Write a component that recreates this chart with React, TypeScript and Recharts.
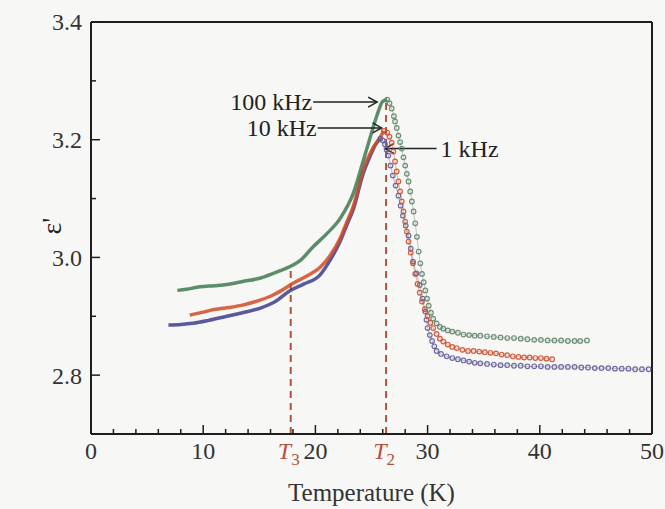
import { LineChart, Line, XAxis, YAxis, ReferenceLine } from "recharts";

// 100 kHz: warming branch up to the peak, then the drop and plateau
const T_100K_RISE = [7.7, 8.5, 9.7, 11, 12.1, 13.5, 15.1, 16.8, 17.8, 18.6, 19.8, 21, 22.2, 23.4, 24.2, 24.9, 25.5, 26.0, 26.4];
const E_100K_RISE = [2.944, 2.946, 2.95, 2.952, 2.954, 2.959, 2.965, 2.977, 2.985, 2.994, 3.018, 3.04, 3.066, 3.11, 3.16, 3.205, 3.242, 3.265, 3.268];
const T_100K_FALL = [26.4, 26.6, 26.8, 27.0, 27.1, 27.25, 27.4, 27.55, 27.7, 27.85, 28.0, 28.15, 28.3, 28.45, 28.6, 28.75, 28.9, 29.05, 29.2, 29.35, 29.5, 29.65, 29.8, 29.95, 30.1, 30.3, 30.5, 30.8, 31.1, 31.4, 31.8, 32.2, 32.7, 33.2, 33.7, 34.2, 34.7, 35.3, 35.9, 36.5, 37.1, 37.7, 38.3, 38.9, 39.5, 40.1, 40.7, 41.3, 41.9, 42.5, 43.1, 43.6, 44.2];
const E_100K_FALL = [3.268, 3.262, 3.253, 3.24, 3.231, 3.22, 3.207, 3.196, 3.185, 3.17, 3.156, 3.142, 3.129, 3.112, 3.095, 3.078, 3.058, 3.035, 3.01, 2.99, 2.972, 2.958, 2.944, 2.93, 2.918, 2.906, 2.896, 2.888, 2.882, 2.879, 2.876, 2.874, 2.872, 2.869, 2.868, 2.867, 2.867, 2.866, 2.865, 2.864, 2.863, 2.863, 2.862, 2.861, 2.86, 2.86, 2.859, 2.859, 2.859, 2.858, 2.858, 2.858, 2.859];

// 10 kHz
const T_10K_RISE = [8.8, 10, 10.6, 12, 13.5, 15, 16, 17, 18.0, 19.2, 20.4, 21.3, 22.2, 22.8, 23.4, 24.2, 25.1, 25.8, 26.1];
const E_10K_RISE = [2.902, 2.907, 2.91, 2.914, 2.919, 2.927, 2.934, 2.944, 2.956, 2.968, 2.983, 3.003, 3.032, 3.06, 3.088, 3.146, 3.185, 3.205, 3.215];
const T_10K_FALL = [26.1, 26.4, 26.6, 26.8, 26.95, 27.1, 27.25, 27.4, 27.55, 27.7, 27.85, 28.0, 28.15, 28.3, 28.5, 28.7, 28.9, 29.1, 29.3, 29.5, 29.75, 30.0, 30.25, 30.5, 30.8, 31.1, 31.4, 31.8, 32.2, 32.6, 33.1, 33.6, 34.1, 34.6, 35.1, 35.6, 36.1, 36.6, 37.1, 37.6, 38.1, 38.6, 39.1, 39.6, 40.1, 40.6, 41.1];
const E_10K_FALL = [3.215, 3.212, 3.205, 3.195, 3.18, 3.163, 3.146, 3.129, 3.112, 3.095, 3.078, 3.061, 3.044, 3.027, 3.008, 2.99, 2.972, 2.955, 2.94, 2.925, 2.912, 2.9, 2.889, 2.88, 2.87, 2.862, 2.857, 2.852, 2.848, 2.846, 2.843, 2.841, 2.841, 2.84, 2.839, 2.838, 2.837, 2.835, 2.834, 2.832, 2.831, 2.83, 2.83, 2.829, 2.829, 2.828, 2.827];

// 1 kHz
const T_1K_RISE = [6.9, 8, 9.1, 10.5, 12.1, 13.5, 15.1, 16.5, 17.7, 19, 20.4, 21.3, 22.2, 22.8, 23.4, 24.2, 24.9, 25.4, 25.8];
const E_1K_RISE = [2.885, 2.886, 2.888, 2.893, 2.9, 2.906, 2.914, 2.926, 2.943, 2.955, 2.97, 2.995, 3.027, 3.055, 3.083, 3.139, 3.173, 3.193, 3.202];
const T_1K_FALL = [25.8, 26.0, 26.2, 26.35, 26.5, 26.7, 26.9, 27.15, 27.4, 27.6, 27.8, 28.05, 28.3, 28.5, 28.7, 29.0, 29.3, 29.55, 29.8, 29.9, 30.0, 30.2, 30.4, 30.6, 30.8, 31.2, 31.7, 32.2, 32.7, 33.2, 33.7, 34.2, 34.7, 35.3, 35.9, 36.5, 37.1, 37.7, 38.3, 38.9, 39.5, 40.1, 40.7, 41.3, 41.9, 42.5, 43.1, 43.7, 44.3, 44.9, 45.5, 46.1, 46.7, 47.3, 47.9, 48.5, 49.1, 49.7];
const E_1K_FALL = [3.202, 3.199, 3.192, 3.183, 3.173, 3.156, 3.139, 3.122, 3.105, 3.088, 3.071, 3.054, 3.037, 3.015, 2.993, 2.973, 2.953, 2.93, 2.908, 2.894, 2.88, 2.868, 2.858, 2.849, 2.841, 2.836, 2.832, 2.829, 2.827, 2.825, 2.823, 2.821, 2.82, 2.819, 2.818, 2.817, 2.817, 2.816, 2.816, 2.815, 2.815, 2.815, 2.814, 2.814, 2.814, 2.814, 2.814, 2.813, 2.813, 2.812, 2.812, 2.812, 2.811, 2.811, 2.811, 2.81, 2.81, 2.81];

const X_TICKS = [0, 2, 4, 6, 8, 10, 12, 14, 16, 18, 20, 22, 24, 26, 28, 30, 32, 34, 36, 38, 40, 42, 44, 46, 48, 50];
const Y_TICKS = [2.7, 2.8, 2.9, 3.0, 3.1, 3.2, 3.3, 3.4];

// transition temperatures and where their dashed markers stop
const T3 = 17.8;
const T3_TOP = 2.985;
const T2 = 26.3;
const T2_TOP = 3.266;

const FONT = "'Liberation Serif', 'Times New Roman', serif";
const AXIS = "#1e1e1e";
const GREEN = "#3f7a50";
const RED = "#d14c25";
const BLUE = "#3e3d8c";
const GREEN_DOT = "#5f8468";
const RED_DOT = "#cc4f2e";
const BLUE_DOT = "#5e5c98";
const MARK = "#b5503a";

const toRows = (t: number[], e: number[]) => t.map((x, i) => ({ t: x, e: e[i] }));

const isMajorX = (v: number) => v % 10 === 0;
const isMajorY = (v: number) => Math.round(v * 10) % 2 === 0;

function BottomTick(props: any) {
  const { x, y, payload } = props;
  const major = isMajorX(payload.value);
  return (
    <g>
      <line x1={x} x2={x} y1={y} y2={y - (major ? 9 : 5)} stroke={AXIS} strokeWidth={1.5} />
      {major && (
        <text x={x} y={y + 25} textAnchor="middle" fontSize={24} fontFamily={FONT} fill="#333">
          {payload.value}
        </text>
      )}
    </g>
  );
}

function TopTick(props: any) {
  const { x, y, payload } = props;
  const major = isMajorX(payload.value);
  return <line x1={x} x2={x} y1={y} y2={y + (major ? 9 : 5)} stroke={AXIS} strokeWidth={1.5} />;
}

function LeftTick(props: any) {
  const { x, y, payload } = props;
  const major = isMajorY(payload.value);
  return (
    <g>
      <line x1={x} x2={x + (major ? 9 : 5)} y1={y} y2={y} stroke={AXIS} strokeWidth={1.5} />
      {major && payload.value > 2.75 && (
        <text x={x - 9} y={y} dy="0.35em" textAnchor="end" fontSize={24} fontFamily={FONT} fill="#333">
          {payload.value.toFixed(1)}
        </text>
      )}
    </g>
  );
}

function RightTick(props: any) {
  const { x, y, payload } = props;
  const major = isMajorY(payload.value);
  return <line x1={x} x2={x - (major ? 9 : 5)} y1={y} y2={y} stroke={AXIS} strokeWidth={1.5} />;
}

const ring = (color: string) => ({ r: 2.3, stroke: color, strokeWidth: 1.2, strokeOpacity: 0.9, fill: "none" });

function arrow(text: string, side: "left" | "right") {
  return (p: any) => {
    const { x1, y1, x2, y2 } = p;
    const dir = x2 > x1 ? 1 : -1;
    return (
      <g>
        <line x1={x1} y1={y1} x2={x2} y2={y2} stroke="#222" strokeWidth={1.5} />
        <polyline
          points={`${x2 - dir * 9},${y2 - 5} ${x2},${y2} ${x2 - dir * 9},${y2 + 5}`}
          fill="none"
          stroke="#222"
          strokeWidth={1.5}
        />
        <text
          x={side === "left" ? x1 - 1 : x1 + 4}
          y={y1}
          dy="0.35em"
          textAnchor={side === "left" ? "end" : "start"}
          fontSize={24}
          fontFamily={FONT}
          fill="#222"
        >
          {text}
        </text>
      </g>
    );
  };
}

function markerLabel(sub: string) {
  return (props: any) => {
    const vb = props.viewBox;
    return (
      <text x={vb.x - 2} y={vb.y + vb.height + 25} textAnchor="middle" fontFamily={FONT} fill={MARK}>
        <tspan fontSize={24} fontStyle="italic">T</tspan>
        <tspan fontSize={17} dy={6}>{sub}</tspan>
      </text>
    );
  };
}

export default function App() {
  return (
    <div style={{ position: "fixed", left: 0, top: 0, width: 665, height: 509, background: "#f7f7f5" }}>
      <LineChart width={665} height={509} margin={{ top: 21, right: 12, bottom: 15, left: 11 }}>
        <XAxis
          dataKey="t"
          type="number"
          domain={[0, 50]}
          ticks={X_TICKS}
          interval={0}
          tickSize={0}
          tickMargin={0}
          height={60}
          tick={BottomTick}
          axisLine={{ stroke: AXIS, strokeWidth: 2 }}
          label={{
            content: (p: any) => (
              <text x={p.viewBox.x + p.viewBox.width / 2} y={p.viewBox.y + 67} textAnchor="middle" fontSize={25} fontFamily={FONT} fill="#333">
                Temperature (K)
              </text>
            ),
          }}
        />
        <XAxis
          xAxisId="top"
          orientation="top"
          type="number"
          domain={[0, 50]}
          ticks={X_TICKS}
          interval={0}
          tickSize={0}
          tickMargin={0}
          height={1}
          tick={TopTick}
          axisLine={{ stroke: AXIS, strokeWidth: 2 }}
        />
        <YAxis
          type="number"
          domain={[2.7, 3.4]}
          ticks={Y_TICKS}
          interval={0}
          tickSize={0}
          tickMargin={0}
          width={80}
          tick={LeftTick}
          axisLine={{ stroke: AXIS, strokeWidth: 2 }}
          label={{
            content: (p: any) => {
              const cx = p.viewBox.x + 40;
              const cy = p.viewBox.y + p.viewBox.height / 2 - 2;
              return (
                <text x={cx} y={cy} transform={`rotate(-90 ${cx} ${cy})`} dy="0.35em" textAnchor="middle" fontSize={28} fontFamily={FONT} fill="#222">
                  ε'
                </text>
              );
            },
          }}
        />
        <YAxis
          yAxisId="right"
          orientation="right"
          type="number"
          domain={[2.7, 3.4]}
          ticks={Y_TICKS}
          interval={0}
          tickSize={0}
          tickMargin={0}
          width={1}
          tick={RightTick}
          axisLine={{ stroke: AXIS, strokeWidth: 2 }}
        />

        <ReferenceLine
          segment={[{ x: T3, y: 2.7 }, { x: T3, y: T3_TOP }]}
          stroke={MARK}
          strokeWidth={2}
          strokeDasharray="7 5"
          label={{ content: markerLabel("3") }}
        />
        <ReferenceLine
          segment={[{ x: T2, y: 2.7 }, { x: T2, y: T2_TOP }]}
          stroke={MARK}
          strokeWidth={2}
          strokeDasharray="7 5"
          label={{ content: markerLabel("2") }}
        />

        <Line data={toRows(T_1K_FALL, E_1K_FALL)} dataKey="e" stroke={BLUE_DOT} strokeWidth={1} strokeOpacity={0.4} dot={ring(BLUE_DOT)} isAnimationActive={false} />
        <Line data={toRows(T_10K_FALL, E_10K_FALL)} dataKey="e" stroke={RED_DOT} strokeWidth={1} strokeOpacity={0.4} dot={ring(RED_DOT)} isAnimationActive={false} />
        <Line data={toRows(T_100K_FALL, E_100K_FALL)} dataKey="e" stroke={GREEN_DOT} strokeWidth={1} strokeOpacity={0.4} dot={ring(GREEN_DOT)} isAnimationActive={false} />
        <Line type="monotone" data={toRows(T_1K_RISE, E_1K_RISE)} dataKey="e" stroke={BLUE} strokeWidth={3.5} strokeOpacity={0.85} dot={false} isAnimationActive={false} />
        <Line type="monotone" data={toRows(T_10K_RISE, E_10K_RISE)} dataKey="e" stroke={RED} strokeWidth={3.5} strokeOpacity={0.85} dot={false} isAnimationActive={false} />
        <Line type="monotone" data={toRows(T_100K_RISE, E_100K_RISE)} dataKey="e" stroke={GREEN} strokeWidth={3.5} strokeOpacity={0.85} dot={false} isAnimationActive={false} />

        <ReferenceLine segment={[{ x: 19.8, y: 3.264 }, { x: 25.5, y: 3.264 }]} shape={arrow("100 kHz", "left")} />
        <ReferenceLine segment={[{ x: 20.2, y: 3.22 }, { x: 25.9, y: 3.22 }]} shape={arrow("10 kHz", "left")} />
        <ReferenceLine segment={[{ x: 30.8, y: 3.185 }, { x: 26.2, y: 3.185 }]} shape={arrow("1 kHz", "right")} />
      </LineChart>
    </div>
  );
}
